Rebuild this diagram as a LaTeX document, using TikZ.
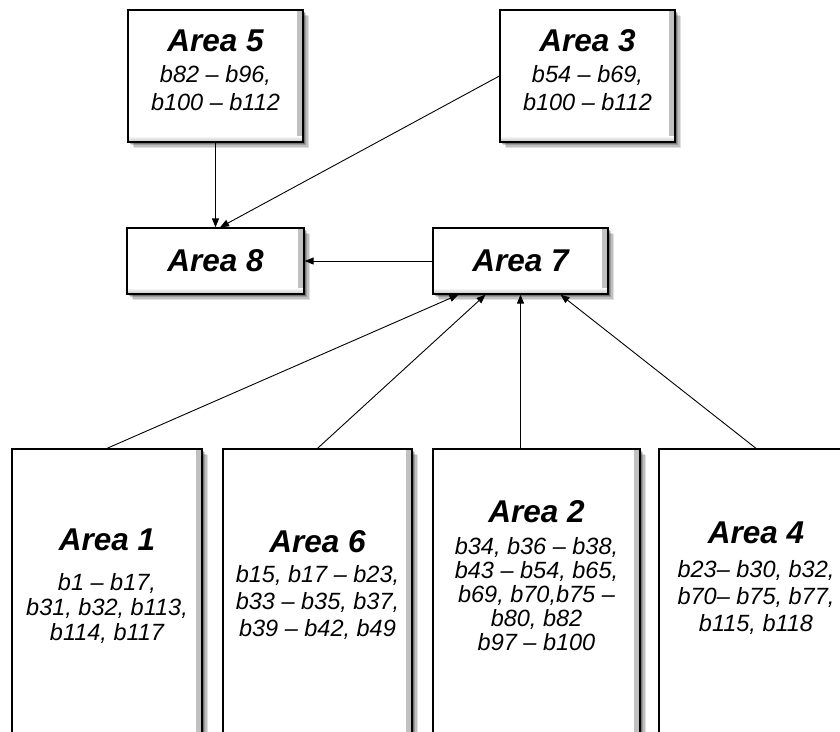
\documentclass[tikz,border=0pt]{standalone}
\usepackage{fontspec}
\setmainfont{Liberation Sans}
\usetikzlibrary{arrows.meta,shadows}
\begin{document}
\begin{tikzpicture}[x=1pt,y=-1pt,
  % white area box with a soft drop shadow and a light inner bevel
  box/.style={draw=black, line width=1.3pt, fill=white, inner sep=0pt,
    general shadow={fill=black, opacity=.12, shadow xshift=6pt, shadow yshift=-6pt},
    general shadow={fill=black, opacity=.14, shadow xshift=4.5pt, shadow yshift=-4.5pt},
    general shadow={fill=black, opacity=.18, shadow xshift=3pt, shadow yshift=-3pt},
    general shadow={fill=black, opacity=.25, shadow xshift=1.5pt, shadow yshift=-1.5pt},
    path picture={
      \shade[left color=white, right color=gray!50]
        ([xshift=-6pt]path picture bounding box.north east) rectangle (path picture bounding box.south east);
      \shade[top color=white, bottom color=gray!50]
        ([yshift=6pt]path picture bounding box.south west) rectangle (path picture bounding box.south east);
    }},
  title/.style={font=\bfseries\itshape\fontsize{31.5}{36}\selectfont, inner sep=0pt},
  body/.style={font=\itshape\fontsize{23.5}{#1}\selectfont, align=center, anchor=north, inner sep=0pt},
  arr/.style={-{Triangle[length=9pt,width=7pt]}, line width=0.9pt, draw=black}
]
\useasboundingbox (0,0) rectangle (840,731);
\clip (0,0) rectangle (840,731);
\fill[white] (0,0) rectangle (840,731);

% top row
\node[box, minimum width=175pt, minimum height=132pt] (a5) at (215.5,76) {};
\node[title, anchor=base] (t5) at (215.5,51) {Area 5};
\node[body=28] (b5) at (215.5,64.8) {b82 -- b96,\\b100 -- b112};

\node[box, minimum width=175pt, minimum height=132pt] (a3) at (587.5,76) {};
\node[title, anchor=base] (t3) at (587.5,51) {Area 3};
\node[body=28] (b3) at (587.5,64.8) {b54 -- b69,\\b100 -- b112};

% middle row
\node[box, title, minimum width=177pt, minimum height=66pt] (a8) at (215.5,261) {Area 8};
\node[box, title, minimum width=175pt, minimum height=66pt] (a7) at (520.5,261) {Area 7};

% bottom row
\node[box, minimum width=190pt, minimum height=311pt] (a1) at (107,604.5) {};
\node[title, anchor=base] (t1) at (107,550) {Area 1};
\node[body=25] (b1) at (107,572.8) {b1 -- b17,\\b31, b32, b113,\\b114, b117};

\node[box, minimum width=189pt, minimum height=311pt] (a6) at (317.5,604.5) {};
\node[title, anchor=base] (t6) at (317.5,552) {Area 6};
\node[body=27] (b6) at (317.5,564.8) {b15, b17 -- b23,\\b33 -- b35, b37,\\b39 -- b42, b49};

\node[box, minimum width=207pt, minimum height=311pt] (a2) at (536.5,604.5) {};
\node[title, anchor=base] (t2) at (536.5,522) {Area 2};
\node[body=24] (b2) at (536.5,537) {b34, b36 -- b38,\\b43 -- b54, b65,\\b69, b70,b75 --\\b80, b82\\b97 -- b100};

\node[box, minimum width=194pt, minimum height=311pt] (a4) at (756,604.5) {};
\node[title, anchor=base] (t4) at (756,543) {Area 4};
\node[body=27] (b4) at (756,560.3) {b23-- b30, b32,\\b70-- b75, b77,\\b115, b118};

% connectors
\draw[arr] (a5) -- (a8);
\draw[arr] (a3.west) -- ([xshift=4.5pt]a8.north);
\draw[arr] (a7) -- (a8);
\draw[arr] (a1.north) -- ([xshift=-62pt]a7.south);
\draw[arr] (a6.north) -- ([xshift=-35pt]a7.south);
\draw[arr] (a7.south |- a2.north) -- (a7.south);
\draw[arr] (a4.north) -- ([xshift=40pt]a7.south);
\end{tikzpicture}
\end{document}
